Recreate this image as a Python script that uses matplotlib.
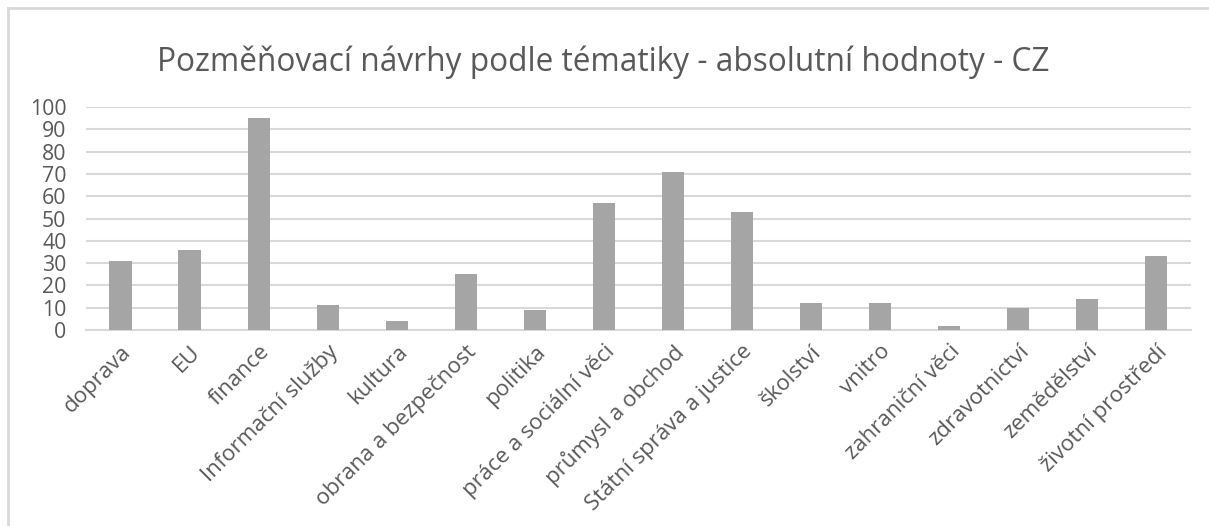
import matplotlib.pyplot as plt
from matplotlib.lines import Line2D

categories = ["doprava", "EU", "finance", "Informační služby", "kultura",
              "obrana a bezpečnost", "politika", "práce a sociální věci",
              "průmysl a obchod", "Státní správa a justice", "školství",
              "vnitro", "zahraniční věci", "zdravotnictví", "zemědělství",
              "životní prostředí"]
values = [31, 36, 95, 11, 4, 25, 9, 57, 71, 53, 12, 12, 2, 10, 14, 33]
y_ticks = list(range(0, 101, 10))

plt.rcParams['font.family'] = ['Open Sans', 'DejaVu Sans']
text_color = "#595959"

fig = plt.figure(figsize=(12.09, 5.26), dpi=100)
# chart frame: only top and left edges are visible, the rest is cut off
fx, fy = 8 / 1209, 1 - 8 / 526
fig.lines.append(Line2D([fx, 1.0], [fy, fy], transform=fig.transFigure,
                        color="#d9d9d9", linewidth=2))
fig.lines.append(Line2D([fx, fx], [0.0, fy], transform=fig.transFigure,
                        color="#d9d9d9", linewidth=2))

ax = fig.add_axes([0.0711, 0.3726, 0.9139, 0.424])
x = list(range(len(categories)))
ax.bar(x, values, width=0.32, color="#a5a5a5", zorder=3)
ax.set_xlim(-0.5, len(categories) - 0.5)
ax.set_ylim(0, 100)
ax.set_yticks(y_ticks)
ax.set_yticklabels([str(t) for t in y_ticks])
ax.yaxis.grid(True, color="#d9d9d9", linewidth=1.5, zorder=0)
ax.set_axisbelow(True)
for s in ["top", "right", "left"]:
    ax.spines[s].set_visible(False)
ax.spines["bottom"].set_color("#d9d9d9")
ax.spines["bottom"].set_linewidth(1.5)
ax.tick_params(axis="y", length=0, labelsize=15.3, colors=text_color, pad=14)
ax.tick_params(axis="x", length=0, labelsize=16, colors=text_color, pad=8)
ax.set_xticks(x)
ax.set_xticklabels(categories, rotation=45, ha="right", rotation_mode="anchor")

fig.text(0.499, 0.882, "Pozměňovací návrhy podle tématiky - absolutní hodnoty - CZ",
         ha="center", va="center", fontsize=22.8, color=text_color)

fig.savefig("out.png", dpi=100)
